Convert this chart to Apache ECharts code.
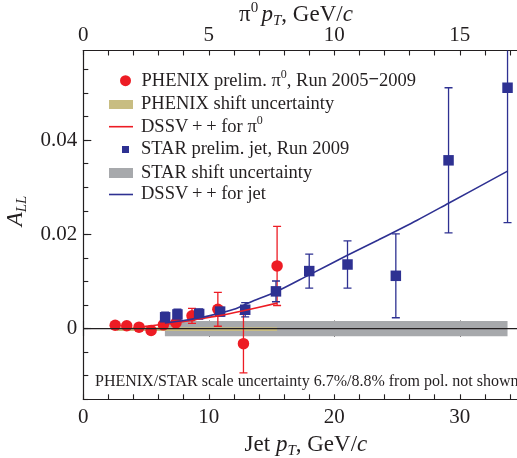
<!DOCTYPE html>
<html><head><meta charset="utf-8">
<script src="https://cdn.jsdelivr.net/npm/echarts@6/dist/echarts.min.js"></script>
<style>html,body{margin:0;padding:0;background:#fff}#c{width:517px;height:458px}</style>
</head><body><div id="c"></div>
<script>
// ---- PHENIX pi0 (x = pi0 pT, GeV/c) ----
const phenixPt  = [1.27, 1.73, 2.22, 2.70, 3.19, 3.69, 4.33, 5.36, 6.38, 7.72];
const phenixAll = [0.0007, 0.0006, 0.0003, -0.0004, 0.0008, 0.0012, 0.0027, 0.0041, -0.0032, 0.0133];
const phenixErr = [0.0004, 0.0004, 0.0004, 0.0004, 0.0005, 0.0006, 0.0016, 0.0036, 0.0062, 0.0084];
// PHENIX shift uncertainty band: [pt from, pt to, low, high]
const phenixShift = [1.33, 7.72, -0.0005, 0.0003];
// DSSV++ for pi0
const dssvPi0Pt = [2.22, 2.70, 3.19, 3.69, 4.33, 5.36, 6.38, 7.72];
const dssvPi0   = [0.0003, 0.0006, 0.0009, 0.0012, 0.0018, 0.0027, 0.0038, 0.0054];

// ---- STAR jets (x = jet pT, GeV/c) ----
const starPt  = [6.52, 7.5, 9.23, 10.9, 12.9, 15.35, 18.0, 21.05, 24.9, 29.1, 33.8];
const starAll = [0.0024, 0.0030, 0.0031, 0.0036, 0.0040, 0.0079, 0.0122, 0.0136, 0.0112, 0.0357, 0.0511];
const starErr = [0.0011, 0.0011, 0.0011, 0.0009, 0.0015, 0.0022, 0.0036, 0.0050, 0.0089, 0.0154, 0.0286];
const starShift = [6.5, 33.8, -0.0016, 0.0016];
// DSSV++ for jet
const dssvJetPt = [6.5, 8, 10, 12, 13.3, 15.35, 18, 21, 23.5, 26.6, 29.1, 33.8];
const dssvJet   = [0.0012, 0.0017, 0.0027, 0.0041, 0.0056, 0.0078, 0.0114, 0.0155, 0.0188, 0.0230, 0.0266, 0.0334];

// ---- axes ----
const jetMin = 0, jetMax = 35;
const pi0Min = 0, pi0Max = 17.5;
const yMin = -0.015, yMax = 0.059;
const jetLabels = [0, 10, 20, 30];
const jetTicks  = [0,2,4,6,8,10,12,14,16,18,20,22,24,26,28,30,32,34];
const pi0Labels = [0, 5, 10, 15];
const pi0Ticks  = [0,1,2,3,4,5,6,7,8,9,10,11,12,13,14,15,16,17];
const yLabels = [0, 0.02, 0.04];
const yTicks  = [-0.015,-0.01,-0.005,0,0.005,0.01,0.015,0.02,0.025,0.03,0.035,0.04,0.045,0.05,0.055];

const TXT = '#231f20';
const SERIF = "'Liberation Serif','DejaVu Serif',serif";
const RED = '#ed1c24';
const BLUE = '#2e3192';
const GRAY = '#a7a9ac';
const TAN = '#c8bd82';

const pair = (xs, ys) => xs.map((x, i) => [x, ys[i]]);
const triple = (xs, ys, es) => xs.map((x, i) => [x, ys[i], es[i]]);

function errRender(color) {
  return function (params, api) {
    const x = api.value(0), y = api.value(1), e = api.value(2);
    const t = api.coord([x, y + e]);
    const b = api.coord([x, y - e]);
    const cap = 4;
    const st = { stroke: color, lineWidth: 1.3 };
    return { type: 'group', children: [
      { type: 'line', shape: { x1: t[0], y1: t[1], x2: b[0], y2: b[1] }, style: st },
      { type: 'line', shape: { x1: t[0] - cap, y1: t[1], x2: t[0] + cap, y2: t[1] }, style: st },
      { type: 'line', shape: { x1: b[0] - cap, y1: b[1], x2: b[0] + cap, y2: b[1] }, style: st }
    ]};
  };
}
function bandRender(color) {
  return function (params, api) {
    const p0 = api.coord([api.value(0), api.value(3)]);
    const p1 = api.coord([api.value(1), api.value(2)]);
    return { type: 'rect', shape: { x: p0[0], y: p0[1], width: p1[0] - p0[0], height: p1[1] - p0[1] },
             style: { fill: color } };
  };
}

// rich text for axis names
const nameRich = {
  n:   { fontFamily: SERIF, fontSize: 23, color: TXT, lineHeight: 28 },
  i:   { fontFamily: SERIF, fontSize: 23, color: TXT, lineHeight: 28, fontStyle: 'italic' },
  sup: { fontFamily: SERIF, fontSize: 15, color: TXT, lineHeight: 14, verticalAlign: 'top' },
  sub: { fontFamily: SERIF, fontSize: 15, color: TXT, lineHeight: 14, verticalAlign: 'bottom', fontStyle: 'italic' }
};

const N_PHX = 'PHENIX prelim. pi0', N_PHXS = 'PHENIX shift uncertainty', N_DPI = 'DSSV++ for pi0';
const N_STAR = 'STAR prelim. jet, Run 2009', N_STARS = 'STAR shift uncertainty', N_DJET = 'DSSV++ for jet';
const legendText = {};
legendText[N_PHX] = '{n|PHENIX prelim. π}{sup|0}{n|, Run 2005}{b|−}{n|2009}';
legendText[N_PHXS] = '{n|PHENIX shift uncertainty}';
legendText[N_DPI] = '{n|DSSV\u2009+\u2009+ for π}{sup|0}';
legendText[N_STAR] = '{n|STAR prelim. jet, Run 2009}';
legendText[N_STARS] = '{n|STAR shift uncertainty}';
legendText[N_DJET] = '{n|DSSV\u2009+\u2009+ for jet}';

const LF = 18.5;
const legRich = {
  n:   { fontFamily: SERIF, fontSize: LF, color: TXT, lineHeight: 24 },
  b:   { fontFamily: SERIF, fontSize: LF, color: TXT, lineHeight: 24, fontWeight: 'bold' },
  sup: { fontFamily: SERIF, fontSize: 12, color: TXT, lineHeight: 11, verticalAlign: 'top' }
};
function leg(name, icon, left, top, w, h, pad) {
  return {
    left: left, top: top, padding: 0, itemWidth: w, itemHeight: h, selectedMode: false,
    data: [{ name: name, icon: icon }],
    formatter: n => legendText[n],
    textStyle: { fontFamily: SERIF, fontSize: LF, color: TXT, rich: legRich, padding: [0, 0, 0, pad] }
  };
}

const axisBase = {
  type: 'value', splitLine: { show: false },
  axisLine: { show: true, onZero: false, lineStyle: { color: TXT, width: 1.2 } }
};
const tickLabel = { fontFamily: SERIF, fontSize: 21, color: TXT };

const option = {
  animation: false,
  backgroundColor: '#fff',
  grid: { left: 83.3, top: 50.5, width: 439.3, height: 348.8, containLabel: false, outerBoundsMode: 'none' },
  title: {
    text: 'PHENIX/STAR scale uncertainty 6.7%/8.8% from pol. not shown',
    left: 95, top: 374, padding: 0,
    textStyle: { fontFamily: SERIF, fontSize: 16, fontWeight: 'normal', color: TXT }
  },
  legend: [
    leg(N_PHX, 'circle', 120, 68.7, 22, 11, 0),
    leg(N_PHXS, 'rect', 109, 95, 24, 9, 3),
    leg(N_DPI, 'rect', 109, 114.7, 24, 1.6, 3),
    leg(N_STAR, 'square', 122, 140, 14, 7, 0),
    leg(N_STARS, 'rect', 109, 163.5, 24, 10, 3),
    leg(N_DJET, 'rect', 109, 185, 24, 1.6, 3)
  ],
  xAxis: [
    Object.assign({}, axisBase, {
      position: 'bottom', min: jetMin, max: jetMax,
      name: '{n|Jet }{i|p}{sub|T}{n|, GeV/}{i|c}', nameLocation: 'middle', nameGap: 27,
      nameTextStyle: { rich: nameRich, padding: [0, 0, 0, 6] },
      axisTick: { show: true, inside: true, length: 5, customValues: jetTicks, lineStyle: { color: TXT, width: 1.1 } },
      axisLabel: Object.assign({ customValues: jetLabels, margin: 8 }, tickLabel)
    }),
    Object.assign({}, axisBase, {
      position: 'top', min: pi0Min, max: pi0Max,
      name: '{n|π}{sup|0} {i|p}{sub|T}{n|, GeV/}{i|c}', nameLocation: 'middle', nameGap: 22,
      nameMoveOverlap: false,
      nameTextStyle: { rich: nameRich, padding: [0, 14, 0, 0] },
      axisTick: { show: true, inside: true, length: 5, customValues: pi0Ticks, lineStyle: { color: TXT, width: 1.1 } },
      axisLabel: Object.assign({ customValues: pi0Labels, margin: 5 }, tickLabel)
    }),
    { type: 'value', position: 'bottom', min: jetMin, max: jetMax, splitLine: { show: false },
      axisLine: { show: false }, axisLabel: { show: false },
      axisTick: { show: true, inside: true, length: 8, customValues: jetLabels, lineStyle: { color: TXT, width: 1.1 } } },
    { type: 'value', position: 'top', min: pi0Min, max: pi0Max, splitLine: { show: false },
      axisLine: { show: false }, axisLabel: { show: false },
      axisTick: { show: true, inside: true, length: 8, customValues: pi0Labels, lineStyle: { color: TXT, width: 1.1 } } }
  ],
  yAxis: [
    Object.assign({}, axisBase, {
      position: 'left', min: yMin, max: yMax,
      name: '{i|A}{sub|LL}', nameLocation: 'middle', nameGap: 52,
      nameTextStyle: { rich: nameRich, padding: [0, 0, 0, 28] },
      axisTick: { show: true, inside: true, length: 5, customValues: yTicks, lineStyle: { color: TXT, width: 1.1 } },
      axisLabel: Object.assign({ customValues: yLabels, margin: 6,
                   formatter: v => (v === 0 ? '0' : String(+v.toFixed(3))) }, tickLabel)
    }),
    { type: 'value', position: 'left', min: yMin, max: yMax, splitLine: { show: false },
      axisLine: { show: false }, axisLabel: { show: false },
      axisTick: { show: true, inside: true, length: 8, customValues: yLabels, lineStyle: { color: TXT, width: 1.1 } } }
  ],
  series: [
    { name: N_STARS, type: 'custom', xAxisIndex: 0, yAxisIndex: 0, itemStyle: { color: GRAY },
      encode: { x: [0, 1], y: [2, 3] }, renderItem: bandRender(GRAY), data: [starShift] },
    { name: N_PHXS, type: 'custom', xAxisIndex: 1, yAxisIndex: 0, itemStyle: { color: TAN },
      encode: { x: [0, 1], y: [2, 3] }, renderItem: bandRender(TAN), data: [phenixShift] },
    { name: 'zero', type: 'line', xAxisIndex: 0, yAxisIndex: 0, symbol: 'none', silent: true,
      lineStyle: { color: TXT, width: 1.3 }, data: [[jetMin, 0], [jetMax, 0]] },
    { name: N_DPI, type: 'line', xAxisIndex: 1, yAxisIndex: 0, symbol: 'none', smooth: 0.3,
      itemStyle: { color: RED }, lineStyle: { color: RED, width: 1.6 }, data: pair(dssvPi0Pt, dssvPi0) },
    { name: N_DJET, type: 'line', xAxisIndex: 0, yAxisIndex: 0, symbol: 'none', smooth: 0.3,
      itemStyle: { color: BLUE }, lineStyle: { color: BLUE, width: 1.6 }, data: pair(dssvJetPt, dssvJet) },
    { name: 'phxErr', type: 'custom', xAxisIndex: 1, yAxisIndex: 0, clip: true,
      renderItem: errRender(RED), data: triple(phenixPt, phenixAll, phenixErr) },
    { name: N_PHX, type: 'scatter', xAxisIndex: 1, yAxisIndex: 0, symbol: 'circle', symbolSize: 11.5,
      itemStyle: { color: RED, opacity: 1 }, data: pair(phenixPt, phenixAll) },
    { name: 'starErr', type: 'custom', xAxisIndex: 0, yAxisIndex: 0, clip: true,
      renderItem: errRender(BLUE), data: triple(starPt, starAll, starErr) },
    { name: N_STAR, type: 'scatter', xAxisIndex: 0, yAxisIndex: 0, symbol: 'rect', symbolSize: 10.5,
      itemStyle: { color: BLUE, opacity: 1 }, data: pair(starPt, starAll) }
  ]
};
const chart = echarts.init(document.getElementById('c'), null, { renderer: 'canvas' });
chart.setOption(option);
</script>
</body></html>
